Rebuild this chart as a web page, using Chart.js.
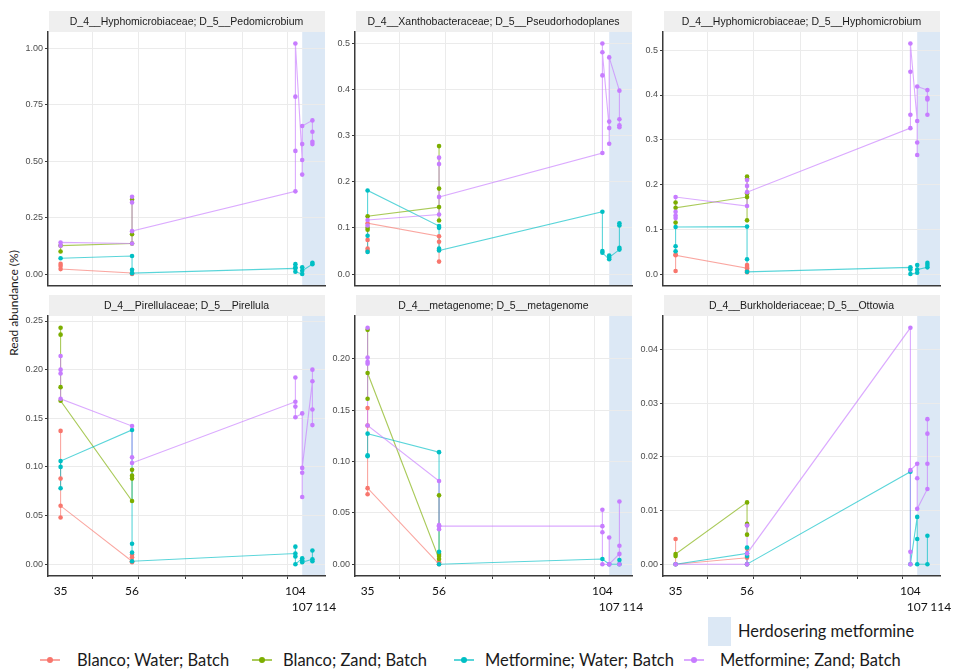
<!DOCTYPE html>
<html>
<head>
<meta charset="utf-8">
<script src="https://cdn.jsdelivr.net/npm/chart.js@4.4.1/dist/chart.umd.min.js"></script>
<style>
  body { margin: 0; background: #fff; }
  #page { position: relative; width: 960px; height: 671px; overflow: hidden; font-family: Lato, "Liberation Sans", sans-serif; color: #1a1a1a; }
  canvas.panel { position: absolute; }
  #ytitle { position: absolute; left: 13px; top: 303px; transform: translate(-50%, -50%) rotate(-90deg); font-size: 12px; white-space: nowrap; }
  #dose-box { position: absolute; left: 708px; top: 617px; width: 23px; height: 29px; background: #dce8f5; }
  #dose-text { position: absolute; left: 738px; top: 621px; font-size: 16.4px; white-space: nowrap; }
  .key { position: absolute; top: 650px; display: flex; align-items: center; font-size: 16.5px; white-space: nowrap; }
  .key .mark { position: relative; width: 20px; height: 20px; }
  .key .mark i { position: absolute; left: 0; right: 0; top: 9px; height: 1.5px; }
  .key .mark b { position: absolute; left: 7px; top: 7px; width: 6px; height: 6px; border-radius: 50%; }
  .key .name { position: absolute; white-space: nowrap; }
</style>
</head>
<body>
<div id="page">
  <div id="ytitle">Read abundance (%)</div>
  <div id="dose-box"></div>
  <div id="dose-text">Herdosering metformine</div>
</div>
<script>
// groups, in drawing order
const SERIES = ['Blanco; Water; Batch', 'Blanco; Zand; Batch', 'Metformine; Water; Batch', 'Metformine; Zand; Batch'];
const COLORS = ['#F8766D', '#7CAE00', '#00BFC4', '#C77CFF'];

// sampling days: labels under the axis
const DAY_TICKS = [35, 56, 104];
const DAY_TICK_LABELS = ['35', '56', '104'];
const LATE_DAY_LABELS = ['107', '114'];
const GRID_DAYS = [44.5, 58, 71.7, 88.4, 101.8];
const DOSING_FROM = 107;

// [day, read abundance %] per group, in the order the line visits them
const PEDO_BW = [[35,0.045],[35,0.036],[35,0.022],[56,0.005],[56,0.0]];
const PEDO_BZ = [[35,0.1],[35,0.126],[56,0.135],[56,0.176],[56,0.33]];
const PEDO_MW = [[35,0.07],[56,0.08],[56,0.019],[56,0.004],[104,0.025],[104,0.044],[104,0.03],[104,0.01],[107,0.0],[107,0.03],[107,0.015],[114,0.044],[114,0.05]];
const PEDO_MZ = [[35,0.125],[35,0.14],[56,0.135],[56,0.342],[56,0.317],[56,0.19],[104,0.366],[104,0.545],[104,0.785],[104,1.02],[107,0.505],[107,0.44],[107,0.575],[107,0.655],[114,0.68],[114,0.63],[114,0.585],[114,0.575]];

const PSEU_BW = [[35,0.055],[35,0.05],[35,0.074],[35,0.11],[56,0.082],[56,0.07],[56,0.052],[56,0.027]];
const PSEU_BZ = [[35,0.096],[35,0.1],[35,0.125],[56,0.145],[56,0.185],[56,0.277],[56,0.116]];
const PSEU_MW = [[35,0.048],[35,0.083],[35,0.181],[56,0.104],[56,0.1],[56,0.055],[56,0.051],[104,0.135],[104,0.05],[104,0.046],[107,0.032],[107,0.04],[107,0.036],[114,0.053],[114,0.057],[114,0.105],[114,0.11]];
const PSEU_MZ = [[35,0.105],[35,0.117],[56,0.129],[56,0.252],[56,0.238],[56,0.167],[104,0.262],[104,0.43],[104,0.499],[104,0.48],[107,0.316],[107,0.282],[107,0.33],[107,0.469],[114,0.397],[114,0.335],[114,0.322],[114,0.318]];

const HYPH_BW = [[35,0.007],[35,0.044],[35,0.042],[56,0.013],[56,0.02],[56,0.016],[56,0.008],[56,0.004]];
const HYPH_BZ = [[35,0.115],[35,0.16],[35,0.148],[56,0.172],[56,0.218],[56,0.213],[56,0.18],[56,0.12]];
const HYPH_MW = [[35,0.051],[35,0.062],[35,0.105],[56,0.106],[56,0.033],[56,0.005],[104,0.015],[104,0.01],[104,0.0],[107,0.003],[107,0.02],[107,0.01],[114,0.015],[114,0.025],[114,0.02]];
const HYPH_MZ = [[35,0.125],[35,0.131],[35,0.139],[35,0.172],[56,0.152],[56,0.21],[56,0.197],[56,0.183],[104,0.326],[104,0.356],[104,0.452],[104,0.515],[107,0.342],[107,0.266],[107,0.294],[107,0.419],[114,0.411],[114,0.394],[114,0.39],[114,0.356]];

const PIRE_BW = [[35,0.137],[35,0.088],[35,0.048],[35,0.06],[56,0.003],[56,0.01],[56,0.007],[56,0.002]];
const PIRE_BZ = [[35,0.243],[35,0.236],[35,0.182],[35,0.168],[56,0.065],[56,0.088],[56,0.091],[56,0.097]];
const PIRE_MW = [[35,0.078],[35,0.1],[35,0.106],[56,0.138],[56,0.021],[56,0.012],[56,0.003],[104,0.011],[104,0.018],[104,0.008],[104,0.0],[107,0.006],[107,0.004],[107,0.002],[114,0.005],[114,0.014],[114,0.003]];
const PIRE_MZ = [[35,0.214],[35,0.2],[35,0.196],[35,0.17],[56,0.142],[56,0.11],[56,0.104],[104,0.167],[104,0.192],[104,0.162],[104,0.151],[107,0.155],[107,0.069],[107,0.094],[107,0.099],[114,0.188],[114,0.2],[114,0.159],[114,0.143]];

const META_BW = [[35,0.152],[35,0.135],[35,0.068],[35,0.074],[56,0.0],[56,0.002]];
const META_BZ = [[35,0.228],[35,0.161],[35,0.186],[56,0.005],[56,0.008],[56,0.01],[56,0.067]];
const META_MW = [[35,0.106],[35,0.105],[35,0.127],[56,0.109],[56,0.012],[56,0.0],[104,0.005],[107,0.0],[114,0.0],[114,0.004]];
const META_MZ = [[35,0.23],[35,0.201],[35,0.197],[35,0.195],[35,0.135],[56,0.081],[56,0.038],[56,0.034],[56,0.037],[104,0.037],[104,0.053],[104,0.031],[104,0.0],[107,0.0],[107,0.026],[107,0.0],[114,0.01],[114,0.0],[114,0.018],[114,0.061]];

const OTTO_BW = [[35,0.0047],[35,0.0],[56,0.0012],[56,0.0015],[56,0.0029],[56,0.0]];
const OTTO_BZ = [[35,0.0015],[35,0.0019],[56,0.0115],[56,0.0075],[56,0.0073],[56,0.0055]];
const OTTO_MW = [[35,0.0],[56,0.002],[56,0.0031],[56,0.0015],[56,0.0],[104,0.0172],[104,0.0],[107,0.0088],[107,0.0047],[107,0.0],[114,0.0],[114,0.0053]];
const OTTO_MZ = [[35,0.0],[56,0.0],[56,0.0072],[56,0.002],[104,0.044],[104,0.0023],[104,0.0],[104,0.0175],[107,0.0187],[107,0.016],[107,0.0103],[114,0.014],[114,0.0187],[114,0.0243],[114,0.027]];

const PANELS = [
  { title: 'D_4__Hyphomicrobiaceae; D_5__Pedomicrobium', groups: [PEDO_BW, PEDO_BZ, PEDO_MW, PEDO_MZ], yLabels: ['0.00', '0.25', '0.50', '0.75', '1.00'] },
  { title: 'D_4__Xanthobacteraceae; D_5__Pseudorhodoplanes', groups: [PSEU_BW, PSEU_BZ, PSEU_MW, PSEU_MZ], yLabels: ['0.0', '0.1', '0.2', '0.3', '0.4', '0.5'] },
  { title: 'D_4__Hyphomicrobiaceae; D_5__Hyphomicrobium', groups: [HYPH_BW, HYPH_BZ, HYPH_MW, HYPH_MZ], yLabels: ['0.0', '0.1', '0.2', '0.3', '0.4', '0.5'] },
  { title: 'D_4__Pirellulaceae; D_5__Pirellula', groups: [PIRE_BW, PIRE_BZ, PIRE_MW, PIRE_MZ], yLabels: ['0.00', '0.05', '0.10', '0.15', '0.20', '0.25'] },
  { title: 'D_4__metagenome; D_5__metagenome', groups: [META_BW, META_BZ, META_MW, META_MZ], yLabels: ['0.00', '0.05', '0.10', '0.15', '0.20'] },
  { title: 'D_4__Burkholderiaceae; D_5__Ottowia', groups: [OTTO_BW, OTTO_BZ, OTTO_MW, OTTO_MZ], yLabels: ['0.00', '0.01', '0.02', '0.03', '0.04'] }
];

// layout
const COL_LEFT = [48, 355, 663];
const ROWS = [
  { strip: 11, top: 32, bottom: 290, last: false },
  { strip: 295, top: 316, bottom: 576, last: true }
];
const PLOT_W = 277;
const Y_W = 45;
const STRIP_H = 21;
const GRID = '#ebebeb';
const AXIS = '#3a3a3a';
const SHADE = '#dce8f5';

// the later days sit closer together on the time axis
const WARP_DAYS = [104, 107, 114];
const WARP_POS = [104, 106, 109];
function dayPos(d) {
  if (d <= WARP_DAYS[0]) return d;
  for (let i = 1; i < WARP_DAYS.length; i++) {
    if (d <= WARP_DAYS[i]) {
      const t = (d - WARP_DAYS[i - 1]) / (WARP_DAYS[i] - WARP_DAYS[i - 1]);
      return WARP_POS[i - 1] + t * (WARP_POS[i] - WARP_POS[i - 1]);
    }
  }
  const n = WARP_DAYS.length - 1;
  return WARP_POS[n] + (d - WARP_DAYS[n]) * (WARP_POS[n] - WARP_POS[n - 1]) / (WARP_DAYS[n] - WARP_DAYS[n - 1]);
}
function posDay(p) {
  if (p <= WARP_POS[0]) return p;
  for (let i = 1; i < WARP_POS.length; i++) {
    if (p <= WARP_POS[i]) {
      const t = (p - WARP_POS[i - 1]) / (WARP_POS[i] - WARP_POS[i - 1]);
      return WARP_DAYS[i - 1] + t * (WARP_DAYS[i] - WARP_DAYS[i - 1]);
    }
  }
  const n = WARP_POS.length - 1;
  return WARP_DAYS[n] + (p - WARP_POS[n]) * (WARP_DAYS[n] - WARP_DAYS[n - 1]) / (WARP_POS[n] - WARP_POS[n - 1]);
}
const X_SPAN = dayPos(114) - 35;
const X_LO = 35 - 0.05 * X_SPAN;
const X_HI = dayPos(114) + 0.05 * X_SPAN;

const LinearBase = Chart.LinearScale || Chart.registry.getScale('linear');
class DayScale extends LinearBase {
  getPixelForValue(value) {
    return this.getPixelForDecimal((dayPos(value) - X_LO) / (X_HI - X_LO));
  }
  getValueForPixel(pixel) {
    return posDay(X_LO + this.getDecimalForPixel(pixel) * (X_HI - X_LO));
  }
}
DayScale.id = 'day';
Chart.register(DayScale);

function fade(hex, a) {
  const n = parseInt(hex.slice(1), 16);
  return `rgba(${n >> 16}, ${(n >> 8) & 255}, ${n & 255}, ${a})`;
}

// facet strip and dosing window
const panelDecor = {
  id: 'panelDecor',
  beforeDraw(chart, args, opts) {
    const { ctx, chartArea: a } = chart;
    const from = chart.scales.x.getPixelForValue(DOSING_FROM);
    ctx.save();
    ctx.fillStyle = SHADE;
    ctx.fillRect(from, a.top, a.right - from, a.bottom - a.top);
    ctx.fillStyle = '#efefef';
    ctx.fillRect(a.left + 1, a.top - STRIP_H, a.right - a.left - 1, STRIP_H);
    ctx.fillStyle = '#1a1a1a';
    ctx.font = '10.5px "Liberation Sans", Arial, sans-serif';
    ctx.textAlign = 'center';
    ctx.textBaseline = 'middle';
    ctx.fillText(opts.title, (a.left + a.right) / 2, a.top - STRIP_H / 2 + 1);
    ctx.restore();
  }
};

const page = document.getElementById('page');

PANELS.forEach((panel, i) => {
  const row = ROWS[Math.floor(i / 3)];
  const left = COL_LEFT[i % 3];
  const padR = row.last ? 14 : 4;
  const padB = row.last ? 4 : 3;
  const xAxisH = row.last ? 24 : 0;
  const x2H = row.last ? 16 : 0;
  const plotH = row.bottom - row.top;
  const width = Y_W + PLOT_W + padR;
  const height = STRIP_H + plotH + xAxisH + x2H + padB;

  const canvas = document.createElement('canvas');
  canvas.className = 'panel';
  canvas.width = width;
  canvas.height = height;
  canvas.style.left = (left - Y_W) + 'px';
  canvas.style.top = row.strip + 'px';
  canvas.style.width = width + 'px';
  canvas.style.height = height + 'px';
  page.appendChild(canvas);

  const values = panel.groups.flat().map(p => p[1]);
  const vMin = Math.min(0, ...values);
  const vMax = Math.max(...values);
  const pad = (vMax - vMin) * 0.05;
  const yTicks = panel.yLabels.map(Number);

  const datasets = [];
  panel.groups.forEach((pts, s) => {
    const data = pts.map(([x, y]) => ({ x, y }));
    datasets.push({
      label: SERIES[s], data, showLine: true,
      borderColor: fade(COLORS[s], 0.65), borderWidth: 1.1,
      pointRadius: 0, order: 20 - s
    });
    datasets.push({
      label: SERIES[s], data, showLine: false,
      backgroundColor: COLORS[s], borderWidth: 0,
      pointRadius: 2.3, order: 4 - s
    });
  });

  const xTickValues = [...DAY_TICKS, ...GRID_DAYS].sort((a, b) => a - b);
  const isLabelTick = v => DAY_TICKS.includes(v);

  const scales = {
    x: {
      type: 'day', position: 'bottom', min: 31, max: 116,
      afterBuildTicks: s => { s.ticks = xTickValues.map(v => ({ value: v })); },
      afterFit: s => { s.height = xAxisH; },
      grid: {
        color: c => (c.tick && isLabelTick(c.tick.value)) ? 'rgba(0,0,0,0)' : GRID,
        tickColor: c => (c.tick && isLabelTick(c.tick.value)) ? 'rgba(0,0,0,0)' : AXIS,
        tickLength: 3, drawTicks: row.last
      },
      border: { color: AXIS, width: 1.5 },
      ticks: {
        display: row.last, autoSkip: false, maxRotation: 0, minRotation: 0, padding: 5,
        color: '#111', font: { family: 'Lato', size: 12 },
        callback: v => { const k = DAY_TICKS.indexOf(v); return k >= 0 ? DAY_TICK_LABELS[k] : ''; }
      }
    },
    y: {
      type: 'linear', position: 'left', min: vMin - pad, max: vMax + pad,
      afterBuildTicks: s => { s.ticks = yTicks.map(v => ({ value: v })); },
      afterFit: s => { s.width = Y_W; },
      grid: { color: GRID, tickColor: AXIS, tickLength: 3 },
      border: { color: AXIS, width: 1.5 },
      ticks: {
        autoSkip: false, padding: 2, color: '#4d4d4d',
        font: { family: 'Liberation Sans', size: 9 },
        callback: (v, k) => panel.yLabels[k]
      }
    }
  };

  if (row.last) {
    // second row of day labels under the dosing window
    scales.x2 = {
      type: 'linear', position: 'bottom', min: X_LO, max: X_HI,
      afterBuildTicks: s => { s.ticks = [106.0, 112.9].map(v => ({ value: v })); },
      afterFit: s => { s.height = x2H; },
      grid: { display: false, drawTicks: false },
      border: { display: false },
      ticks: {
        autoSkip: false, maxRotation: 0, minRotation: 0, padding: 0,
        color: '#111', font: { family: 'Lato', size: 12 },
        callback: (v, k) => LATE_DAY_LABELS[k]
      }
    };
  }

  new Chart(canvas, {
    type: 'scatter',
    data: { datasets },
    options: {
      responsive: false,
      animation: false,
      devicePixelRatio: 1,
      layout: { padding: { top: STRIP_H, right: padR, bottom: padB, left: 0 } },
      scales,
      plugins: {
        legend: { display: false },
        tooltip: { enabled: false },
        panelDecor: { title: panel.title }
      }
    },
    plugins: [panelDecor]
  });
});

// legend row: key mark centred left of each name
const KEY_MARK_X = [50, 262, 464, 694];
const KEY_TEXT_X = [77, 283, 485, 720];
SERIES.forEach((name, s) => {
  const key = document.createElement('div');
  key.className = 'key';
  key.style.left = (KEY_MARK_X[s] - 10) + 'px';
  key.innerHTML = `<span class="mark"><i style="background:${fade(COLORS[s], 0.65)}"></i><b style="background:${COLORS[s]}"></b></span>` +
    `<span class="name" style="left:${KEY_TEXT_X[s] - KEY_MARK_X[s] + 10}px">${name}</span>`;
  page.appendChild(key);
});
</script>
</body>
</html>
